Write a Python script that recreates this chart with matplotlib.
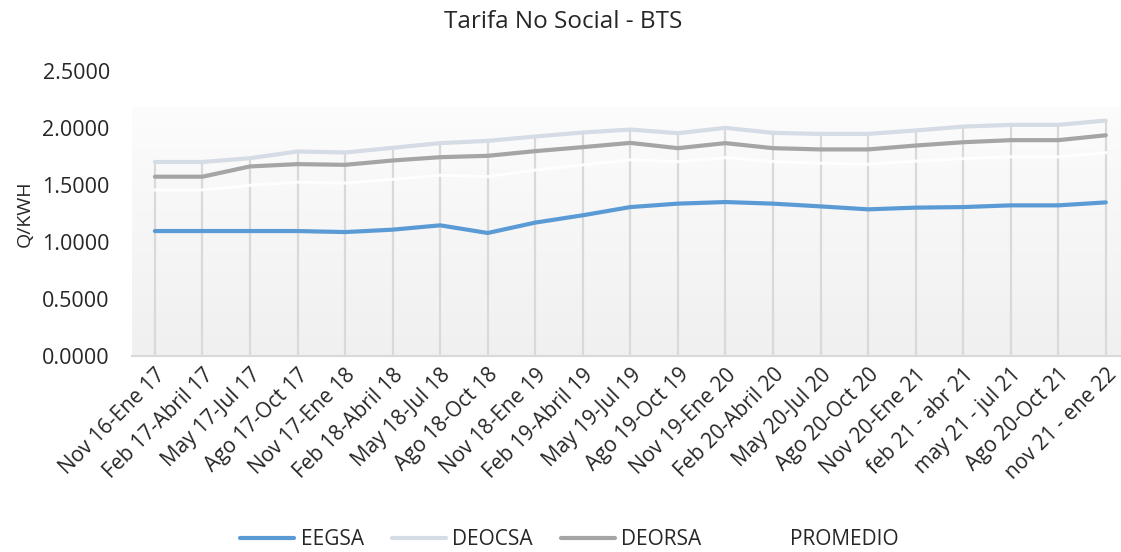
import numpy as np
import matplotlib.pyplot as plt
from matplotlib.colors import LinearSegmentedColormap

plt.rcParams['font.family'] = ['Open Sans', 'DejaVu Sans']

periodos = ['Nov 16-Ene 17', 'Feb 17-Abril 17', 'May 17-Jul 17', 'Ago 17-Oct 17',
            'Nov 17-Ene 18', 'Feb 18-Abril 18', 'May 18-Jul 18', 'Ago 18-Oct 18',
            'Nov 18-Ene 19', 'Feb 19-Abril 19', 'May 19-Jul 19', 'Ago 19-Oct 19',
            'Nov 19-Ene 20', 'Feb 20-Abril 20', 'May 20-Jul 20', 'Ago 20-Oct 20',
            'Nov 20-Ene 21', 'feb 21 - abr 21', 'may 21 - jul 21', 'Ago 20-Oct 21',
            'nov 21 - ene 22']
eegsa = [1.095, 1.095, 1.095, 1.095, 1.086, 1.107, 1.145, 1.078, 1.169, 1.233, 1.305,
         1.335, 1.349, 1.335, 1.311, 1.285, 1.300, 1.305, 1.320, 1.320, 1.346]
deocsa = [1.700, 1.700, 1.733, 1.792, 1.783, 1.824, 1.865, 1.885, 1.923, 1.958, 1.984,
          1.952, 1.999, 1.955, 1.946, 1.946, 1.976, 2.010, 2.025, 2.025, 2.063]
deorsa = [1.571, 1.571, 1.661, 1.681, 1.675, 1.713, 1.742, 1.754, 1.795, 1.830, 1.867,
          1.821, 1.865, 1.821, 1.810, 1.810, 1.844, 1.873, 1.891, 1.891, 1.934]
promedio = [1.455, 1.455, 1.496, 1.523, 1.515, 1.548, 1.584, 1.572, 1.629, 1.674, 1.719,
            1.703, 1.738, 1.704, 1.689, 1.680, 1.707, 1.729, 1.745, 1.745, 1.781]

fig = plt.figure(figsize=(11.21, 5.52), dpi=100)
ax = fig.add_axes([0.1178, 0.355, 0.8822, 0.517])

x = np.arange(len(periodos))
x0, x1 = -0.48, len(periodos) - 1 + 0.32
ax.set_xlim(x0, x1)
ax.set_ylim(0, 2.5)

# fondo degradado del area de trazado
grad = np.linspace(0, 1, 256).reshape(-1, 1)
cmap = LinearSegmentedColormap.from_list('g', ['#f0f0f0', '#fcfcfc'])
ax.imshow(grad, extent=(x0, x1, 0, 2.18), aspect='auto', cmap=cmap,
          origin='lower', zorder=0)

# lineas de caida
tope = np.max([eegsa, deocsa, deorsa, promedio], axis=0)
ax.vlines(x, 0, tope, color='#d9d9d9', lw=1.6, zorder=1)

ax.plot(x, eegsa, color='#5b9bd5', lw=3, label='EEGSA', zorder=3, solid_capstyle='round')
ax.plot(x, deocsa, color='#d6dce5', lw=3, label='DEOCSA', zorder=3, solid_capstyle='round')
ax.plot(x, deorsa, color='#a5a5a5', lw=3, label='DEORSA', zorder=3, solid_capstyle='round')
ax.plot(x, promedio, color='white', lw=2.2, label='PROMEDIO', zorder=2, alpha=0.9)

for s in ['top', 'right', 'left']:
    ax.spines[s].set_visible(False)
ax.spines['bottom'].set_color('#d9d9d9')
ax.spines['bottom'].set_linewidth(1.5)

yt = np.arange(0, 2.51, 0.5)
ax.set_yticks(yt)
ax.set_yticklabels(['%.4f' % v for v in yt])
ax.tick_params(axis='y', length=0, pad=16, labelsize=15.5, labelcolor='#262626')
ax.set_xticks(x)
ax.set_xticklabels(periodos, rotation=45, ha='right', rotation_mode='anchor')
ax.tick_params(axis='x', length=0, pad=6, labelsize=15, labelcolor='#262626')

ax.set_ylabel('Q/KWH', fontsize=14, color='#262626', labelpad=6)
fig.text(0.502, 0.96, 'Tarifa No Social - BTS', ha='center', va='center',
         fontsize=17.5, color='#262626')

fig.legend(loc='center', bbox_to_anchor=(0.508, 0.022), ncol=4, frameon=False,
           fontsize=15, handlelength=2.6, columnspacing=1.35, handletextpad=0.3,
           labelcolor='#262626')

plt.savefig('out.png', dpi=100)
